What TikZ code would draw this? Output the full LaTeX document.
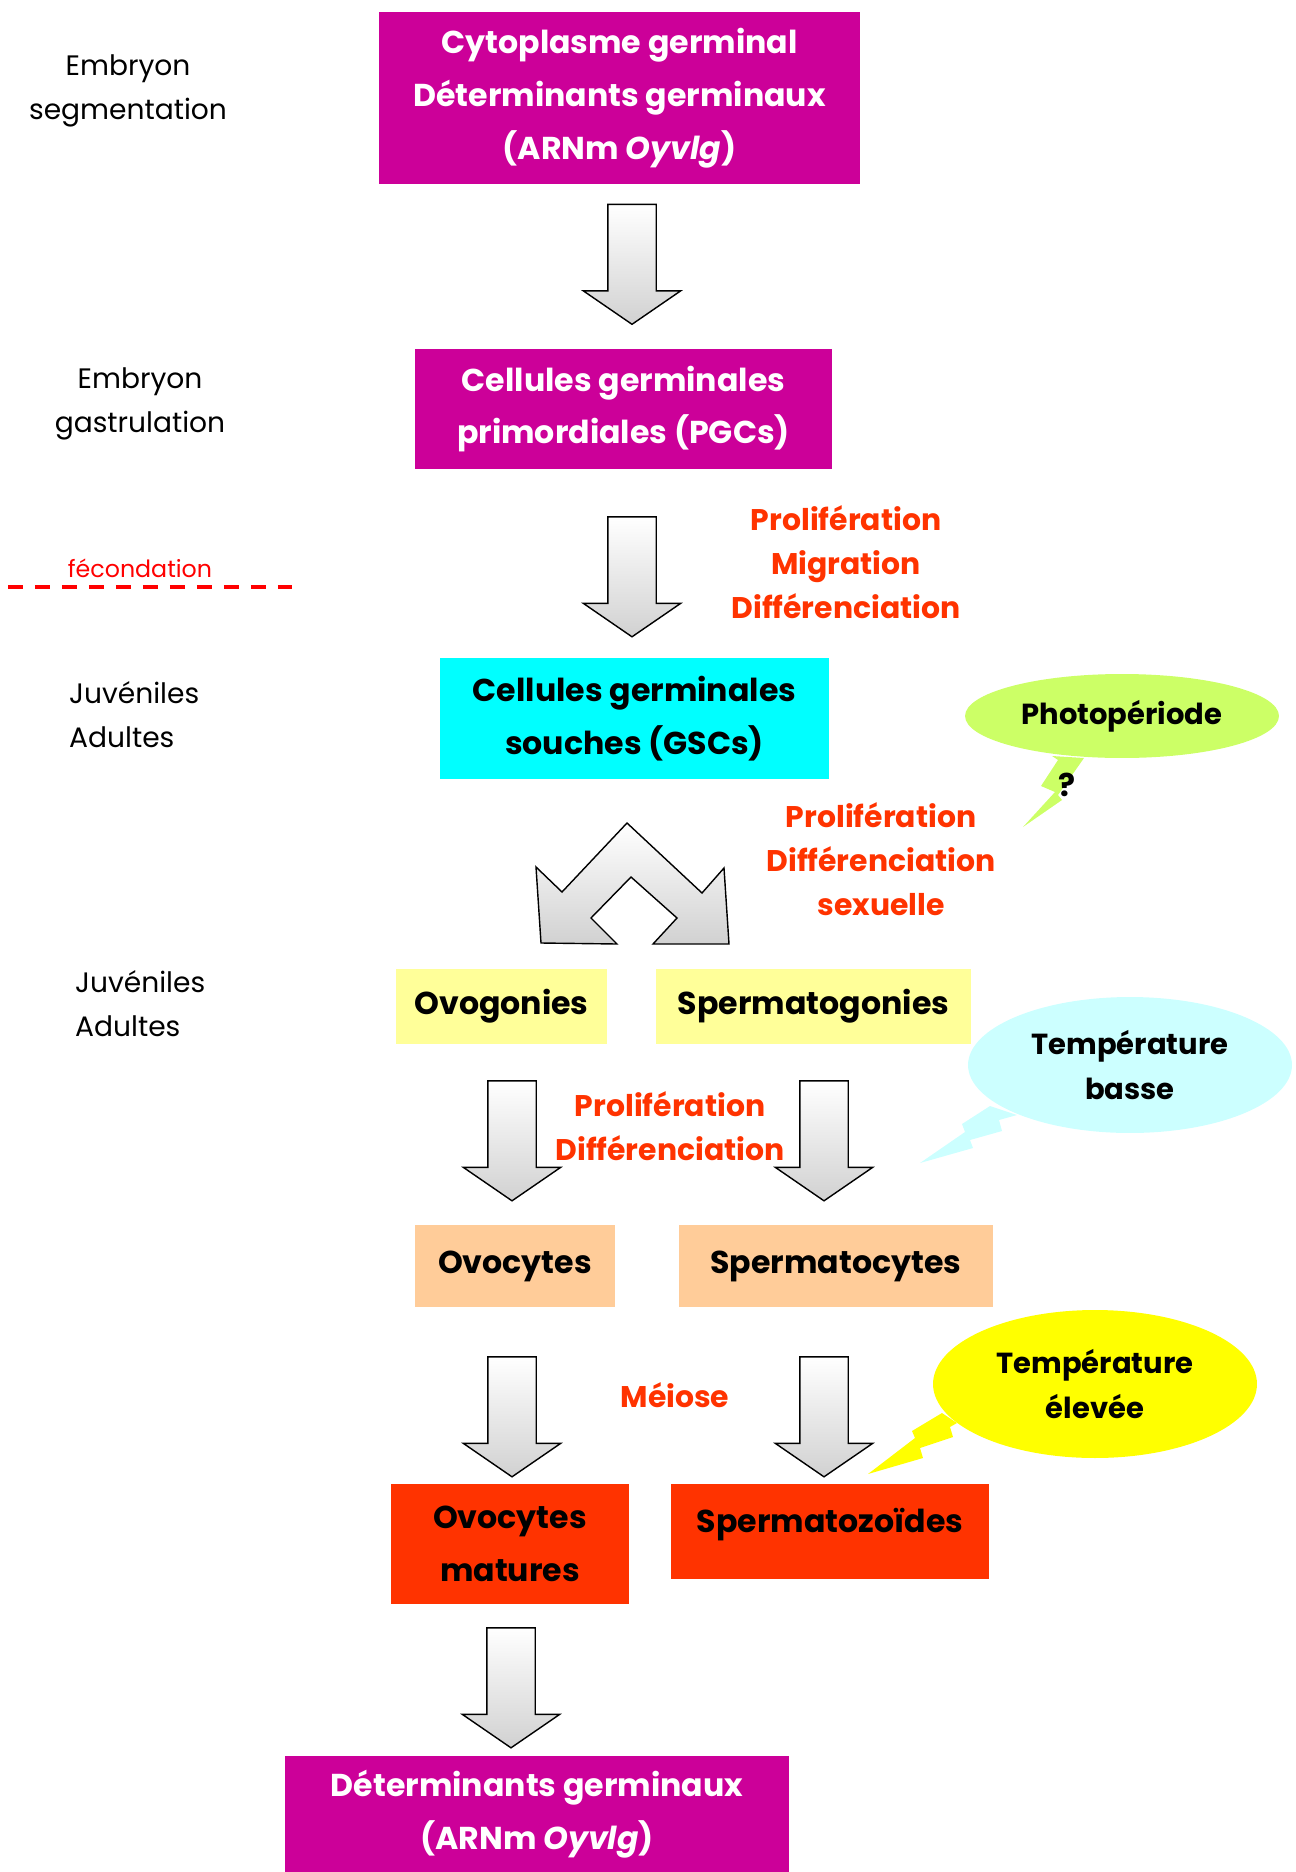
\documentclass[tikz,border=0pt]{standalone}
\usepackage{fontspec}
\setmainfont{Poppins}
\usepackage{xcolor}
\usetikzlibrary{shapes.arrows,shapes.geometric}
\definecolor{magentabox}{HTML}{CC0099}
\definecolor{cyanbox}{HTML}{00FFFF}
\definecolor{paleyellow}{HTML}{FFFF99}
\definecolor{peach}{HTML}{FFCC99}
\definecolor{redbox}{HTML}{FF3300}
\definecolor{orangered}{HTML}{FF3300}
\definecolor{limebubble}{HTML}{CCFF66}
\definecolor{icebubble}{HTML}{CCFFFF}
\definecolor{sunbubble}{HTML}{FFFF00}

\begin{document}
\begin{tikzpicture}[x=0.02cm, y=-0.02cm,
    box/.style={inner sep=0pt, align=center, font=\fontsize{18}{30}\selectfont\bfseries},
    stage/.style={align=center, font=\fontsize{16}{25}\selectfont},
    process/.style={align=center, text=orangered, font=\fontsize{17}{25}\selectfont\bfseries},
    blockarrow/.style={single arrow, draw=black, line width=0.8pt, rotate=-90,
      inner xsep=0pt, inner ysep=0.47cm, minimum height=2.4cm, minimum width=1.92cm,
      single arrow head extend=0.49cm, single arrow tip angle=111,
      top color=white, bottom color=black!18},
    fork/.style={draw=black, line width=0.8pt, top color=white, bottom color=black!18},
    bubble/.style={ellipse, inner sep=0pt, align=center, font=\fontsize{16.5}{26}\selectfont\bfseries}]
\useasboundingbox (0,0) rectangle (1295,1872);

\node[stage] (seg) at (128,91) {Embryon\\segmentation};
\node[stage] (gast) at (140,404) {Embryon\\gastrulation};
\node[stage, align=left, anchor=west] (juvA) at (63,715) {Juvéniles\\Adultes};
\node[stage, align=left, anchor=west] (juvB) at (69,1004) {Juvéniles\\Adultes};
\node[font=\fontsize{13.5}{16}\selectfont, text=red] (fec) at (140,568) {fécondation};
\draw[red, line width=2.3pt, dash pattern=on 0.3cm off 0.24cm] (8,587) -- (292,587);

\node[box, fill=magentabox, text=white, minimum width=9.62cm, minimum height=3.46cm] (cyto) at (619.5,98)
  {Cytoplasme germinal\\Déterminants germinaux\\(ARNm \textit{Oyvlg})};
\node[box, fill=magentabox, text=white, minimum width=8.34cm, minimum height=2.4cm] (pgc) at (623.5,409)
  {Cellules germinales\\primordiales (PGCs)};
\node[box, fill=cyanbox, minimum width=7.78cm, minimum height=2.42cm] (gsc) at (634.5,718.5)
  {Cellules germinales\\souches (GSCs)};
\node[box, fill=paleyellow, minimum width=4.22cm, minimum height=1.5cm] (ovog) at (501.5,1006.5) {Ovogonies};
\node[box, fill=paleyellow, minimum width=6.3cm, minimum height=1.5cm] (sperg) at (813.5,1006.5) {Spermatogonies};
\node[box, fill=peach, minimum width=4cm, minimum height=1.64cm] (ovoc) at (515,1266) {Ovocytes};
\node[box, fill=peach, minimum width=6.28cm, minimum height=1.64cm] (sperc) at (836,1266) {Spermatocytes};
\node[box, fill=redbox, minimum width=4.76cm, minimum height=2.4cm] (ovm) at (510,1544) {Ovocytes\\matures};
\node[box, fill=redbox, minimum width=6.36cm, minimum height=1.9cm, text depth=0.44cm] (spz) at (830,1531.5) {Spermatozoïdes};
\node[box, fill=magentabox, text=white, minimum width=10.08cm, minimum height=2.32cm] (det) at (537,1814)
  {Déterminants germinaux\\(ARNm \textit{Oyvlg})};

\node[blockarrow] (a1) at (632,256) {};
\node[blockarrow] (a2) at (632,568.5) {};
\node[blockarrow] (a3l) at (512,1132.5) {};
\node[blockarrow] (a3r) at (824,1132.5) {};
\node[blockarrow] (a4l) at (512,1408.5) {};
\node[blockarrow] (a4r) at (824,1408.5) {};
\node[blockarrow] (a5) at (511,1679.5) {};
\draw[fork] (627,823) -- (702,893) -- (724,868) -- (729,944) -- (653,944) -- (677,918) -- (631,877)
  -- (591,918) -- (617,944) -- (541,943) -- (536,867) -- (562,892) -- cycle;

\node[process] (pmd) at (846,562) {Prolifération\\Migration\\Différenciation};
\node[process] (pds) at (881,859) {Prolifération\\Différenciation\\sexuelle};
\node[process] (pd) at (670,1126) {Prolifération\\Différenciation};
\node[process] (meio) at (675,1395) {Méiose};

\fill[limebubble] (1052,756) -- (1058,760) -- (1041,786) -- (1055,792) -- (1023,827) -- (1062,800)
  -- (1058,795) -- (1084,758) -- cycle;
\node[bubble, fill=limebubble, minimum width=6.28cm, minimum height=1.68cm] (photo) at (1122,716) {Photopériode};
\node[font=\fontsize{18}{20}\selectfont\bfseries] (qmark) at (1067,785) {?};
\fill[icebubble] (990,1106) -- (962,1124) -- (965,1132) -- (920,1163) -- (973,1148) -- (970,1140)
  -- (1002,1131) -- (999,1120) -- (1017,1115) -- cycle;
\node[bubble, fill=icebubble, minimum width=6.48cm, minimum height=2.72cm] (basse) at (1130,1065)
  {Température\\basse};
\fill[sunbubble] (942,1413) -- (912,1431) -- (915,1438) -- (868,1474) -- (923,1458) -- (920,1448)
  -- (953,1437) -- (950,1427) -- (957,1423) -- cycle;
\node[bubble, fill=sunbubble, minimum width=6.48cm, minimum height=2.96cm] (elev) at (1095,1384)
  {Température\\élevée};
\end{tikzpicture}
\end{document}
